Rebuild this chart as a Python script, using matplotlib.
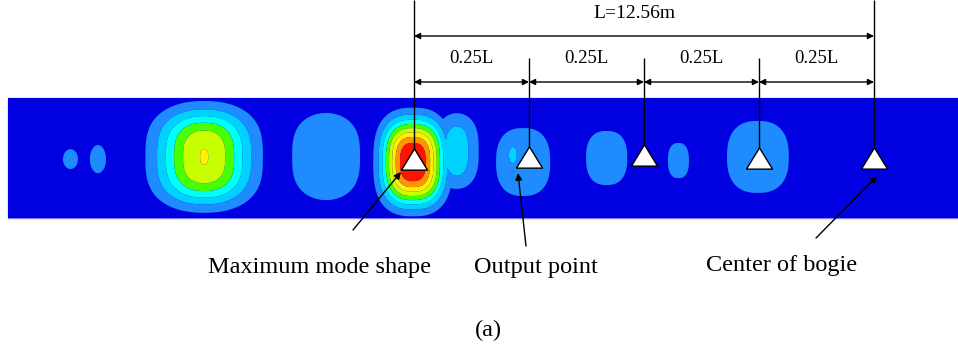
import numpy as np
import matplotlib
matplotlib.use("Agg")
import matplotlib.pyplot as plt

# ---------------- data ----------------
L = 12.56                                   # bogie span (m)
bogie_frac = [0.0, 0.25, 0.5, 0.75, 1.0]    # marker positions as fraction of L
marker_dy = [-0.03, 0.04, 0.08, -0.01, 0.01]  # small vertical offsets of markers (m)
seg_label = "0.25L"
span_label = "L=12.56m"

# mode-shape field: blobs (centre x, centre y in m; amplitude in contour levels; widths in m; exponents)
blob_x   = [-9.38, -8.63, -5.73, -2.40, -0.03, 1.17, 2.98, 2.70, 5.26, 7.22, 9.39]
blob_y   = [-0.03, -0.03,  0.03,  0.04, -0.11, 0.19, -0.11, 0.08, 0.00, -0.07, 0.03]
blob_amp = [1.30, 1.30, 6.03, 1.60, 9.00, 2.60, 1.50, 2.30, 1.30, 1.30, 1.50]
blob_sx  = [0.40, 0.43, 1.229, 1.35, 0.80, 0.61, 1.06, 0.29, 0.96, 0.49, 1.21]
blob_sy  = [0.53, 0.75, 1.256, 1.53, 1.12, 1.05, 1.33, 0.59, 1.26, 0.82, 1.41]
blob_px  = [2.0, 2.0, 2.2, 2.0, 2.6, 2.0, 2.5, 2.0, 2.5, 2.5, 2.5]
blob_py  = [2.0, 2.0, 3.0, 3.0, 2.8, 3.0, 2.5, 2.0, 2.5, 2.5, 2.5]

levels = [-1, 1, 2, 3, 4, 5, 6, 7, 8, 100]
level_colors = ['#0000E1', '#1E8CFF', '#00D2FF', '#00FFF5', '#46FF00',
                '#C8FF00', '#FFF000', '#FF9600', '#FF1400']

callouts = ["Maximum mode shape", "Output point", "Center of bogie"]
callout_text_xy = [(-2.567, -3.140), (3.331, -3.140), (10.049, -3.086)]
callout_tail = [(-1.666, -1.966), (3.058, -2.403), (10.977, -2.185)]
callout_tip = [(-0.355, -0.382), (2.840, -0.410), (12.643, -0.492)]
caption = "(a)"

# ---------------- layout ----------------
W, H = 958, 347
s = 460.0 / L                      # pixels per metre
x_org, y_org = 414.0, 158.0        # pixel position of x=0, y=0
strip_x0 = (8 - x_org) / s
strip_x1 = (W - x_org) / s
strip_half = 60.0 / s

serif = ['Liberation Serif', 'DejaVu Serif']

fig = plt.figure(figsize=(W / 100, H / 100), dpi=100)
ax = fig.add_axes([0, 0, 1, 1])
ax.set_xlim(-x_org / s, (W - x_org) / s)
ax.set_ylim(-(H - y_org) / s, y_org / s)
ax.axis('off')

# strip background
ax.add_patch(plt.Rectangle((strip_x0, -strip_half), strip_x1 - strip_x0, 2 * strip_half,
                           facecolor=level_colors[0], edgecolor='#7B7BFF', lw=1.0, zorder=1))

# field (envelope of the local mode-shape lobes)
gx = np.linspace(strip_x0, strip_x1, 1400)
gy = np.linspace(-strip_half, strip_half, 220)
X, Y = np.meshgrid(gx, gy)
Z = np.zeros_like(X)
for bx, by, a, sx, sy, px, py in zip(blob_x, blob_y, blob_amp, blob_sx, blob_sy, blob_px, blob_py):
    Z = np.maximum(Z, a * np.exp(-(np.abs(X - bx) / sx) ** px - (np.abs(Y - by) / sy) ** py))
ax.contourf(X, Y, Z, levels=levels, colors=level_colors, zorder=2, antialiased=True)

# bogie/output markers and vertical lines
bx_pos = [f * L for f in bogie_frac]
top_full = y_org / s
top_mid = (y_org - 58) / s
for i, (xb, dy) in enumerate(zip(bx_pos, marker_dy)):
    top = top_full if i in (0, len(bx_pos) - 1) else top_mid
    ax.plot([xb, xb], [top, dy], color='black', lw=1.0, zorder=3, solid_capstyle='butt')
tri = [(-1, -0.815), (1, -0.815), (0, 0.815), (-1, -0.815)]
ax.plot(bx_pos, marker_dy, linestyle='none', marker=tri, markersize=18.8,
        markerfacecolor='white', markeredgecolor='black', markeredgewidth=1.0, zorder=4)

# dimension lines
y_top = (y_org - 36) / s
y_seg = (y_org - 82) / s
ax.annotate('', xy=(bx_pos[-1], y_top), xytext=(bx_pos[0], y_top),
            arrowprops=dict(arrowstyle='<|-|>', color='black', lw=1.0,
                            shrinkA=0, shrinkB=0, mutation_scale=9))
ax.text(L / 2 - 0.27, (y_org - 18) / s, span_label, ha='center', va='baseline',
        family=serif, fontsize=14)
for a0, a1 in zip(bx_pos[:-1], bx_pos[1:]):
    ax.annotate('', xy=(a1, y_seg), xytext=(a0, y_seg),
                arrowprops=dict(arrowstyle='<|-|>', color='black', lw=1.0,
                                shrinkA=0, shrinkB=0, mutation_scale=9))
    ax.text((a0 + a1) / 2, (y_org - 63) / s, seg_label, ha='center', va='baseline',
            family=serif, fontsize=13.5)

# callouts
for txt, (tx, ty), tail, tip in zip(callouts, callout_text_xy, callout_tail, callout_tip):
    ax.annotate('', xy=tip, xytext=tail,
                arrowprops=dict(arrowstyle='-|>', color='black', lw=1.0,
                                shrinkA=0, shrinkB=0, mutation_scale=10), zorder=5)
    ax.text(tx, ty, txt, ha='center', va='baseline', family=serif, fontsize=17.5)

ax.text((488.5 - x_org) / s, -(336 - y_org) / s, caption, ha='center', va='baseline',
        family=serif, fontsize=17.5)

fig.savefig('out.png', dpi=100)
